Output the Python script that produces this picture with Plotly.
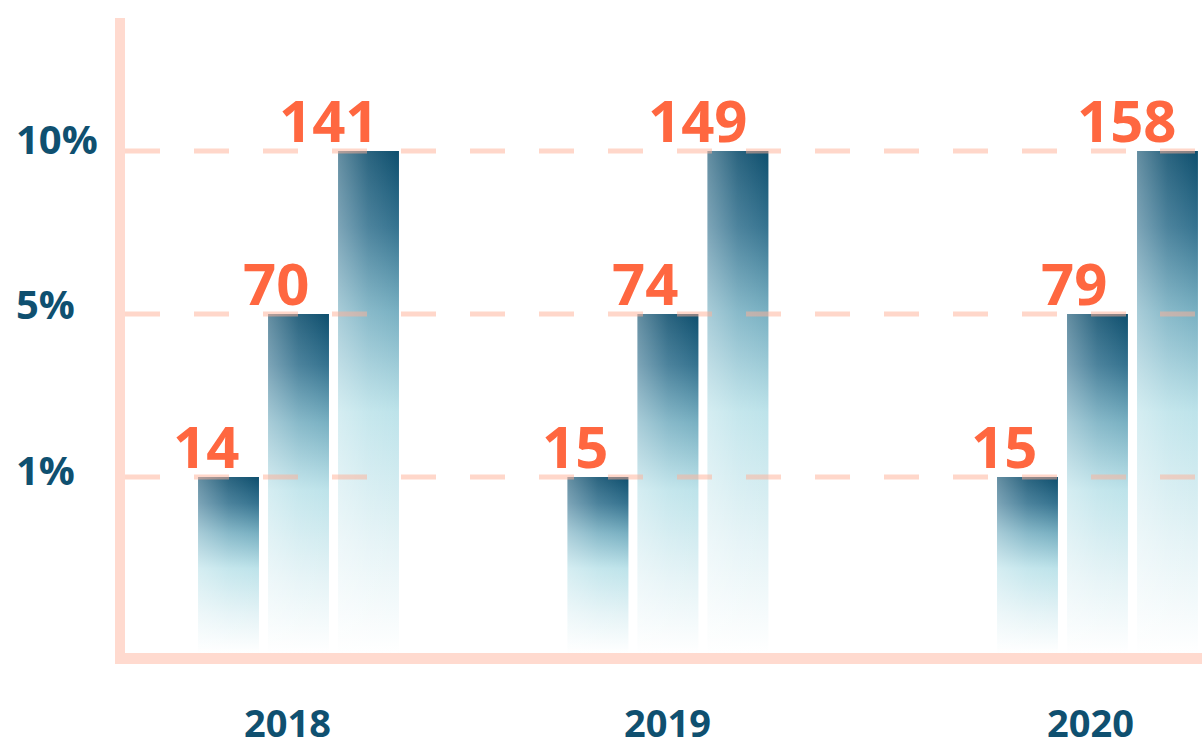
import plotly.graph_objects as go

# ---------------- data ----------------
years = ["2018", "2019", "2020"]
level_labels = ["1%", "5%", "10%"]
level_values = [1, 2, 3]            # position of each tier on the value axis
counts_1pct = [14, 15, 15]
counts_5pct = [70, 74, 79]
counts_10pct = [141, 149, 158]
series_counts = [counts_1pct, counts_5pct, counts_10pct]

# ---------------- layout constants ----------------
GROUP_X = [2.479, 7.757, 13.893]        # group centres (x units, 1 unit = one bar step)
YEAR_LABEL_X = [2.321, 7.757, 13.786]
BAR_OFFSETS = [-1, 0, 1]
BAR_W = 0.87
X_RANGE = [0, 15.386]
Y_RANGE = [-0.08, 3.816]
BASE = Y_RANGE[0]
Y_LABEL_SHIFT = [7, 10, 13]

DARK = "#0f5070"
ORANGE = "#ff6740"
PEACH = "#ffdacf"
FONT = "Open Sans"

vert_scale = [[0.0, "#ffffff"], [0.22, "#e4f3f6"], [0.48, "#bde3ea"],
              [0.68, "#78b0c2"], [0.85, "#34728f"], [1.0, "#0e4f6e"]]
horiz_scale = [[0.0, "rgba(255,255,255,0.36)"], [0.5, "rgba(255,255,255,0.12)"],
               [1.0, "rgba(255,255,255,0)"]]

fig = go.Figure()

for s, (lvl, counts) in enumerate(zip(level_values, series_counts)):
    for g, gx in enumerate(GROUP_X):
        cx = gx + BAR_OFFSETS[s]
        x0, x1 = cx - BAR_W / 2, cx + BAR_W / 2
        xs = [x0, x1, x1, x0, x0]
        ys = [BASE, BASE, lvl, lvl, BASE]
        fig.add_trace(go.Scatter(
            x=xs, y=ys, mode="lines", fill="toself",
            line=dict(width=0, color="rgba(0,0,0,0)"),
            fillgradient=dict(type="vertical", colorscale=vert_scale),
            hoverinfo="skip", showlegend=False))
        fig.add_trace(go.Scatter(
            x=xs, y=ys, mode="lines", fill="toself",
            line=dict(width=0, color="rgba(0,0,0,0)"),
            fillgradient=dict(type="horizontal", colorscale=horiz_scale),
            hoverinfo="skip", showlegend=False))
        fig.add_annotation(
            x=cx, y=lvl, xref="x", yref="y", text=str(counts[g]),
            showarrow=False, xanchor="right", yanchor="bottom",
            xshift=12, yshift=-10,
            font=dict(family=FONT, size=58, color=ORANGE, weight=700))

# dashed grid lines, drawn above bars
for lvl in level_values:
    fig.add_shape(type="line", xref="paper", yref="y", x0=0, x1=1, y0=lvl, y1=lvl,
                  line=dict(color="rgba(255,176,150,0.5)", width=5, dash="35px,34px"),
                  layer="above")

# y tier labels (left aligned)
for lvl, txt, ys in zip(level_values, level_labels, Y_LABEL_SHIFT):
    fig.add_annotation(
        x=-0.1031, y=lvl, xref="paper", yref="y", text=txt, showarrow=False,
        xanchor="left", yanchor="middle", yshift=ys,
        font=dict(family=FONT, size=40, color=DARK, weight=700))

# year labels
for xv, yr in zip(YEAR_LABEL_X, years):
    fig.add_annotation(
        x=xv, y=0, xref="x", yref="paper", text=yr, showarrow=False,
        xanchor="center", yanchor="middle", yshift=-69,
        font=dict(family=FONT, size=38, color=DARK, weight=700))

fig.update_layout(
    width=1202, height=741,
    margin=dict(l=125, r=0, t=18, b=88),
    paper_bgcolor="white", plot_bgcolor="white",
    showlegend=False,
    xaxis=dict(range=X_RANGE, showgrid=False, zeroline=False, showticklabels=False,
               showline=True, linewidth=11, linecolor=PEACH, ticks="", fixedrange=True),
    yaxis=dict(range=Y_RANGE, showgrid=False, zeroline=False, showticklabels=False,
               showline=True, linewidth=10, linecolor=PEACH, ticks="", fixedrange=True),
)

fig.write_html(
    "out.html",
    config={"displayModeBar": False, "staticPlot": True},
    post_script="document.body.style.margin='0px';document.body.style.overflow='hidden';",
)
